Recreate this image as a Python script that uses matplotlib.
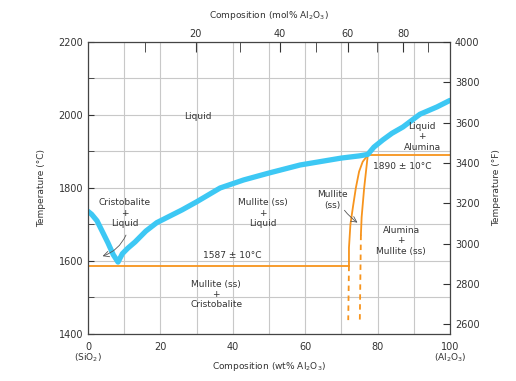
import numpy as np
import matplotlib.pyplot as plt
from matplotlib.ticker import MultipleLocator

# liquidus (wt% Al2O3, deg C)
liq_wt = [0, 1, 2.5, 4, 5.5, 7, 8.3, 9.5, 11, 13, 16, 19, 22, 26, 30, 36.5, 43,
          50, 58.6, 64, 70, 75, 77.3, 79, 81.5, 84, 87, 91.7, 96.4, 100]
liq_T = [1736, 1728, 1710, 1680, 1650, 1617, 1597, 1620, 1635, 1652, 1682, 1705,
         1720, 1740, 1762, 1800, 1822, 1841, 1863, 1872, 1882, 1888, 1892, 1912,
         1932, 1950, 1967, 2002, 2022, 2040]

# eutectic and peritectic lines
eut_wt = [0, 72.1]
eut_T = [1587, 1587]
per_wt = [77.3, 100]
per_T = [1890, 1890]

# mullite (ss) boundaries
mul_left_wt = [72.1, 72.1, 72.5, 73.2, 74.0, 74.9, 75.9, 77.3]
mul_left_T = [1587, 1636, 1700, 1748, 1800, 1845, 1872, 1890]
mul_right_wt = [77.3, 76.3, 75.6, 75.4]
mul_right_T = [1890, 1800, 1720, 1672]
dash_left_wt = [72.1, 71.9]
dash_left_T = [1587, 1438]
dash_right_wt = [75.4, 75.1]
dash_right_T = [1672, 1438]

cyan = '#3dc8f4'
orange = '#f7941d'
tc = '#333333'

fig = plt.figure(figsize=(5.16, 3.81), dpi=100)
ax = fig.add_axes([0.1705, 0.1234, 0.7015, 0.7664])

ax.plot(eut_wt, eut_T, color=orange, lw=1.3)
ax.plot(per_wt, per_T, color=orange, lw=1.3)
ax.plot(mul_left_wt, mul_left_T, color=orange, lw=1.3)
ax.plot(mul_right_wt, mul_right_T, color=orange, lw=1.3)
ax.plot(dash_left_wt, dash_left_T, color=orange, lw=1.3, ls=(0, (3, 2.5)))
ax.plot(dash_right_wt, dash_right_T, color=orange, lw=1.3, ls=(0, (3, 2.5)))
ax.plot(liq_wt, liq_T, color=orange, lw=1.3)
ax.plot(liq_wt, liq_T, color=cyan, lw=3.8, solid_capstyle='round')

ax.set_xlim(0, 100)
ax.set_ylim(1400, 2200)
ax.xaxis.set_major_locator(MultipleLocator(20))
ax.xaxis.set_minor_locator(MultipleLocator(10))
ax.yaxis.set_major_locator(MultipleLocator(200))
ax.yaxis.set_minor_locator(MultipleLocator(100))
ax.grid(which='both', color='#c8c8c8', lw=0.8)
ax.set_axisbelow(True)
ax.tick_params(which='both', direction='in', labelsize=7, colors=tc, length=4)
ax.tick_params(axis='x', which='both', length=0, pad=6)
for s in ax.spines.values():
    s.set_color('#444444')
    s.set_linewidth(0.9)

# top mol% axis
def wt2mol(w):
    w = np.clip(np.asarray(w, dtype=float), 0, 100)
    a = w / 101.96
    b = (100 - w) / 60.08
    return 100 * a / (a + b)

def mol2wt(m):
    m = np.clip(np.asarray(m, dtype=float), 0, 100)
    a = m * 101.96
    b = (100 - m) * 60.08
    return 100 * a / (a + b)

top = ax.secondary_xaxis('top', functions=(wt2mol, mol2wt))
top.set_xticks([20, 40, 60, 80])
top.set_xticks([10, 30, 50, 70, 90], minor=True)
top.tick_params(which='both', direction='in', length=7, labelsize=7, colors=tc, pad=2)
top.spines['top'].set_visible(False)

# right deg F axis
ax2 = ax.twinx()
ax2.set_ylim(1400 * 1.8 + 32, 4000)
ax2.yaxis.set_major_locator(MultipleLocator(200))
ax2.tick_params(direction='in', length=5, labelsize=7, colors=tc)
for s in ax2.spines.values():
    s.set_visible(False)

fs = 6.5
ax.text(30.4, 1995, 'Liquid', fontsize=fs, ha='center', va='center', color=tc)
ax.text(10.2, 1731, 'Cristobalite\n+\nLiquid', fontsize=fs, ha='center', va='center',
        color=tc, linespacing=1.2)
ax.text(48.3, 1731, 'Mullite (ss)\n+\nLiquid', fontsize=fs, ha='center', va='center',
        color=tc, linespacing=1.2)
ax.text(39.8, 1614, '1587 ± 10°C', fontsize=fs, ha='center', va='center', color=tc)
ax.text(35.4, 1508, 'Mullite (ss)\n+\nCristobalite', fontsize=fs, ha='center', va='center',
        color=tc, linespacing=1.2)
ax.text(67.4, 1767, 'Mullite\n(ss)', fontsize=fs, ha='center', va='center', color=tc,
        linespacing=1.2)
ax.text(86.5, 1655, 'Alumina\n+\nMullite (ss)', fontsize=fs, ha='center', va='center',
        color=tc, linespacing=1.2)
ax.text(92.3, 1940, 'Liquid\n+\nAlumina', fontsize=fs, ha='center', va='center', color=tc,
        linespacing=1.2)
ax.text(86.7, 1858, '1890 ± 10°C', fontsize=fs, ha='center', va='center', color=tc)

ax.annotate('', xy=(3.3, 1611), xytext=(10.8, 1678),
            arrowprops=dict(arrowstyle='->', color='#555555', lw=0.6,
                            connectionstyle='arc3,rad=-0.25'))
ax.annotate('', xy=(75.1, 1701), xytext=(70.4, 1745),
            arrowprops=dict(arrowstyle='->', color='#555555', lw=0.6,
                            connectionstyle='arc3,rad=0.1'))

ax.text(0, -0.082, '(SiO$_2$)', transform=ax.get_xaxis_transform(), fontsize=fs,
        ha='center', va='center', color=tc)
ax.text(100, -0.082, '(Al$_2$O$_3$)', transform=ax.get_xaxis_transform(), fontsize=fs,
        ha='center', va='center', color=tc)
ax.text(50, -0.11, 'Composition (wt% Al$_2$O$_3$)', transform=ax.get_xaxis_transform(),
        fontsize=fs, ha='center', va='center', color=tc)
ax.text(50, 1.092, 'Composition (mol% Al$_2$O$_3$)', transform=ax.get_xaxis_transform(),
        fontsize=fs, ha='center', va='center', color=tc)
ax.text(-0.127, 0.5, 'Temperature (°C)', transform=ax.transAxes, fontsize=fs,
        rotation=90, ha='center', va='center', color=tc)
ax.text(1.13, 0.5, 'Temperature (°F)', transform=ax.transAxes, fontsize=fs,
        rotation=90, ha='center', va='center', color=tc)

fig.savefig('out.png', dpi=100)
